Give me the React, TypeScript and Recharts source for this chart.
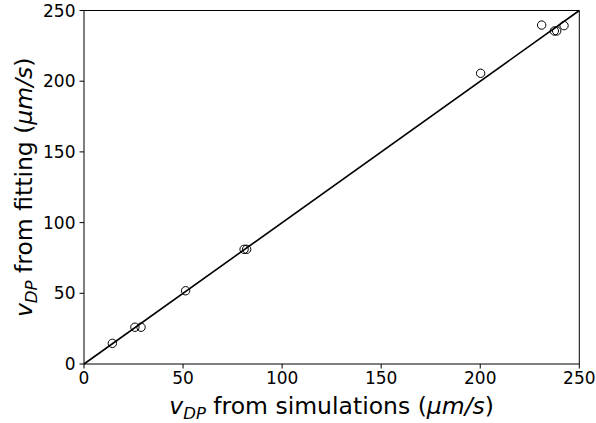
import React from 'react';
import { ComposedChart, Scatter, XAxis, YAxis, ReferenceLine, Label } from 'recharts';

const simulated = [14.3, 25.7, 28.8, 51.3, 80.8, 82.1, 200.2, 231.0, 237.4, 238.6, 242.3];
const fitted = [14.6, 26.0, 26.0, 51.8, 81.1, 81.1, 205.6, 239.7, 235.5, 235.5, 239.3];
const axisTicks = [0, 50, 100, 150, 200, 250];
const axisMax = 250;

const points = simulated.map((x, i) => ({ x, y: fitted[i] }));

const font = '"DejaVu Sans", sans-serif';

const Circle = (props: any) => (
  <circle cx={props.cx} cy={props.cy} r={4.2} fill="none" stroke="#000" strokeWidth={1} />
);

const XTitle = (props: any) => {
  const { x, y, width } = props.viewBox;
  return (
    <text x={x + width / 2} y={y + 50} textAnchor="middle" fontSize={23.5} fontFamily={font} fill="#000">
      <tspan fontStyle="italic">v</tspan>
      <tspan fontStyle="italic" fontSize={16.5} dy={5}>DP</tspan>
      <tspan dy={-5}> from simulations (</tspan>
      <tspan fontStyle="italic">μm/s</tspan>
      <tspan>)</tspan>
    </text>
  );
};

const YTitle = (props: any) => {
  const { y, height } = props.viewBox;
  const cx = 32;
  const cy = y + height / 2;
  return (
    <text x={cx} y={cy} transform={`rotate(-90 ${cx} ${cy})`} textAnchor="middle" fontSize={23.5} fontFamily={font} fill="#000">
      <tspan fontStyle="italic">v</tspan>
      <tspan fontStyle="italic" fontSize={16.5} dy={5}>DP</tspan>
      <tspan dy={-5}> from fitting (</tspan>
      <tspan fontStyle="italic">μm/s</tspan>
      <tspan>)</tspan>
    </text>
  );
};

export default function App() {
  const tickStyle = { fill: '#000', fontSize: 17, fontFamily: font };
  return (
    <div style={{ position: 'absolute', left: 0, top: 0, background: '#fff' }}>
      <ComposedChart width={596} height={423} data={points} margin={{ top: 10.5, right: 16.7, bottom: 0, left: 0 }}>
        <XAxis
          type="number"
          dataKey="x"
          domain={[0, axisMax]}
          ticks={axisTicks}
          interval={0}
          height={59}
          tick={tickStyle}
          tickSize={4.5}
          tickMargin={3}
          stroke="#000"
          allowDataOverflow
        >
          <Label content={XTitle} />
        </XAxis>
        <YAxis
          type="number"
          dataKey="y"
          domain={[0, axisMax]}
          ticks={axisTicks}
          interval={0}
          width={84}
          tick={tickStyle}
          tickSize={4.5}
          tickMargin={4}
          stroke="#000"
          allowDataOverflow
        >
          <Label content={YTitle} />
        </YAxis>
        <ReferenceLine x={axisMax} stroke="#000" strokeWidth={1} />
        <ReferenceLine y={axisMax} stroke="#000" strokeWidth={1} />
        <ReferenceLine
          segment={[{ x: 0, y: 0 }, { x: axisMax, y: axisMax }]}
          stroke="#000"
          strokeWidth={1.6}
        />
        <Scatter dataKey="y" shape={Circle} isAnimationActive={false} />
      </ComposedChart>
    </div>
  );
}
